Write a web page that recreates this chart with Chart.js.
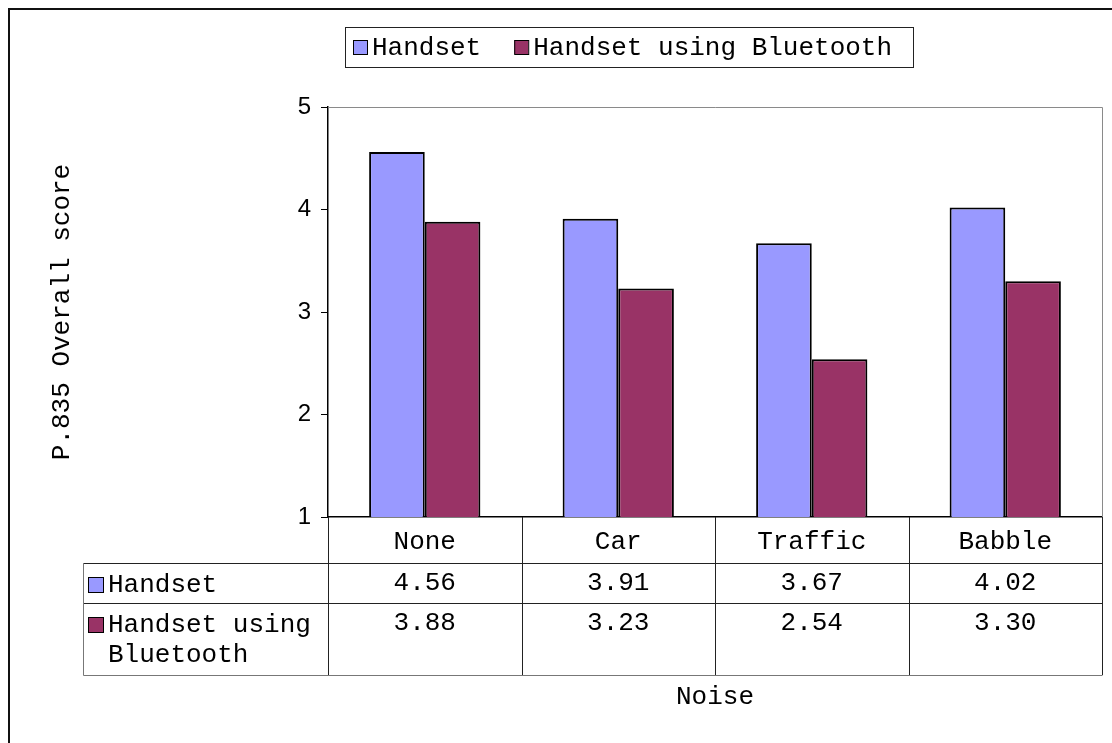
<!DOCTYPE html>
<html>
<head>
<meta charset="utf-8">
<script src="https://cdn.jsdelivr.net/npm/chart.js@4/dist/chart.umd.min.js"></script>
<style>
  html, body { margin: 0; padding: 0; background: #fff; }
  #wrap { width: 1112px; height: 743px; }
</style>
</head>
<body>
<div id="wrap"><canvas id="chart" width="1112" height="743"></canvas></div>
<script>
// data
const categories = ['None', 'Car', 'Traffic', 'Babble'];
const handset = [4.56, 3.91, 3.67, 4.02];
const handsetBluetooth = [3.88, 3.23, 2.54, 3.30];
const seriesNames = ['Handset', 'Handset using Bluetooth'];
const tableRowNames = [['Handset'], ['Handset using', 'Bluetooth']];
const yTicks = [1, 2, 3, 4, 5];

const MONO = '"Liberation Mono", "DejaVu Sans Mono", monospace';
const SANS = '"Liberation Sans", Arial, sans-serif';
const colors = ['#9999FF', '#993366'];

// outer frame, plot border, legend box and data table
const decorations = {
  id: 'decorations',
  beforeDatasetsDraw(chart) {
    const { ctx, chartArea: a } = chart;
    ctx.save();
    ctx.strokeStyle = '#8a8a8a';
    ctx.lineWidth = 1;
    ctx.beginPath();
    ctx.moveTo(a.left, a.top + 0.5);
    ctx.lineTo(a.right + 0.5, a.top + 0.5);
    ctx.lineTo(a.right + 0.5, a.bottom);
    ctx.stroke();
    ctx.restore();
  },
  afterDraw(chart) {
    const { ctx, chartArea: a } = chart;
    const x = chart.scales.x;
    const vals = [handset, handsetBluetooth];
    ctx.save();

    // outer frame (left and top only)
    ctx.strokeStyle = '#111';
    ctx.lineWidth = 2;
    ctx.beginPath();
    ctx.moveTo(9, 743);
    ctx.lineTo(9, 9);
    ctx.lineTo(1112, 9);
    ctx.stroke();

    // legend
    ctx.lineWidth = 1;
    ctx.strokeStyle = '#222';
    ctx.strokeRect(345.5, 27.5, 568, 40);
    ctx.font = '26px ' + MONO;
    ctx.textBaseline = 'middle';
    ctx.textAlign = 'left';
    let lx = 353;
    seriesNames.forEach((name, i) => {
      ctx.fillStyle = colors[i];
      ctx.fillRect(lx, 40, 14, 14);
      ctx.strokeStyle = '#000';
      ctx.strokeRect(lx + 0.5, 40.5, 14, 14);
      ctx.fillStyle = '#000';
      ctx.fillText(name, lx + 19, 48);
      lx += 19 + ctx.measureText(name).width + 33;
    });

    // table
    const half = (x.getPixelForValue(1) - x.getPixelForValue(0)) / 2;
    const r0 = a.bottom, r1 = r0 + 46, r2 = r1 + 40, r3 = r2 + 72;
    const tl = 83.5;
    ctx.strokeStyle = '#222';
    ctx.lineWidth = 1;
    ctx.beginPath();
    [r1, r2].forEach(y => { ctx.moveTo(tl, y + 0.5); ctx.lineTo(a.right + 0.5, y + 0.5); });
    for (let i = 0; i <= categories.length; i++) {
      const cx = Math.round(x.getPixelForValue(i) - half) + 0.5;
      ctx.moveTo(cx, r0);
      ctx.lineTo(cx, r3);
    }
    ctx.stroke();
    ctx.strokeStyle = '#777';
    ctx.beginPath();
    ctx.moveTo(tl, r1);
    ctx.lineTo(tl, r3 + 0.5);
    ctx.lineTo(a.right + 0.5, r3 + 0.5);
    ctx.stroke();

    ctx.font = '26px ' + MONO;
    ctx.fillStyle = '#000';
    const rowTop = [r1, r2];
    tableRowNames.forEach((lines, s) => {
      const cy = rowTop[s] + 22;
      ctx.fillStyle = colors[s];
      ctx.fillRect(88, cy - 8, 15, 15);
      ctx.strokeStyle = '#000';
      ctx.strokeRect(88.5, cy - 7.5, 15, 15);
      ctx.fillStyle = '#000';
      ctx.textAlign = 'left';
      lines.forEach((t, k) => ctx.fillText(t, 108, cy + k * 30));
      ctx.textAlign = 'center';
      vals[s].forEach((v, i) => ctx.fillText(v.toFixed(2), x.getPixelForValue(i), cy - 2));
    });
    ctx.restore();
  }
};

new Chart(document.getElementById('chart'), {
  type: 'bar',
  data: {
    labels: categories,
    datasets: [
      { label: seriesNames[0], data: handset, backgroundColor: colors[0], borderColor: '#000', borderWidth: 2 },
      { label: seriesNames[1], data: handsetBluetooth, backgroundColor: colors[1], borderColor: '#000', borderWidth: 2 }
    ]
  },
  options: {
    responsive: false,
    animation: false,
    devicePixelRatio: 1,
    categoryPercentage: 0.575,
    barPercentage: 1,
    layout: { padding: { left: 40, top: 107, right: 10, bottom: 0 } },
    plugins: { legend: { display: false }, tooltip: { enabled: false } },
    scales: {
      x: {
        afterFit(scale) { scale.height = 226; },
        grid: { display: false, drawTicks: false },
        border: { display: true, color: '#000', width: 1.5 },
        ticks: { color: '#000', font: { family: MONO, size: 26 }, padding: 10 },
        title: { display: true, text: 'Noise', color: '#000', font: { family: MONO, size: 26 }, padding: { top: 0, bottom: 30 } }
      },
      y: {
        min: 1,
        max: 5,
        afterFit(scale) { scale.width = 288; },
        afterBuildTicks(scale) { scale.ticks = yTicks.map(v => ({ value: v })); },
        grid: { drawOnChartArea: false, drawTicks: true, tickLength: 7, color: '#000' },
        border: { display: true, color: '#000', width: 1.5 },
        ticks: { color: '#000', font: { family: SANS, size: 24 }, padding: 10 },
        title: { display: true, text: 'P.835 Overall score', color: '#000', font: { family: MONO, size: 26 }, padding: { top: 7, bottom: 0 } }
      }
    }
  },
  plugins: [decorations]
});
</script>
</body>
</html>
